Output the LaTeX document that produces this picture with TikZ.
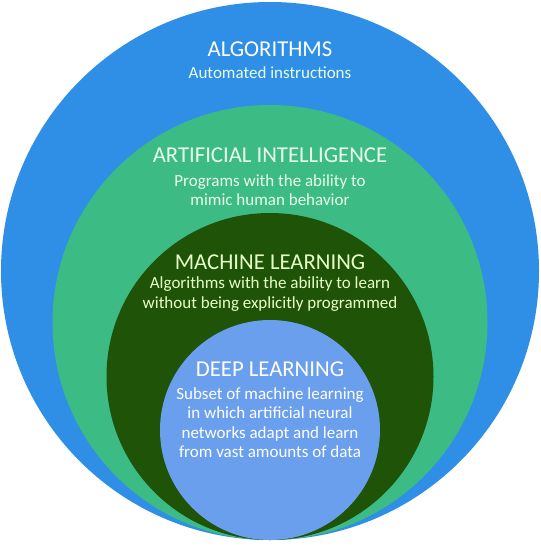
\documentclass[tikz,border=0pt]{standalone}
\usepackage{fontspec}
\setmainfont{Carlito}
\usetikzlibrary{positioning}

\definecolor{algoblue}{RGB}{47,143,230}
\definecolor{aigreen}{RGB}{61,187,132}
\definecolor{mldark}{RGB}{30,83,8}
\definecolor{dlblue}{RGB}{106,159,238}
\definecolor{aitext}{RGB}{232,255,236}
\definecolor{mltext}{RGB}{230,255,200}

\begin{document}
\begin{tikzpicture}[
        x=1pt, y=-1pt,
        % Cercles imbriqués
        ring/.style = {
            circle,
            draw=none,
            inner sep=0pt
        },
        % Titres des cercles
        heading/.style = {
            align=center,
            inner sep=0pt,
            font=\fontsize{22.7}{24}\selectfont
        },
        % Texte descriptif
        caption/.style = {
            align=center,
            inner sep=0pt,
            font=\fontsize{17}{19.5}\selectfont
        }
    ]
    \useasboundingbox (0,0) rectangle (540,556);

    % 1. Les cercles
    \node (algo) [ring, fill=algoblue, minimum size=538pt] at (270,271) {};
    \node (ai)   [ring, fill=aigreen,  minimum size=435pt] at (270,322.5) {};
    \node (ml)   [ring, fill=mldark,   minimum size=327pt] at (270,376.5) {};
    \node (dl)   [ring, fill=dlblue,   minimum size=220pt] at (270,430) {};

    % 2. Les textes
    \node (algoT) [heading, text=white] at (270,49) {ALGORITHMS};
    \node (algoC) [caption, text=aitext] at (270,73) {Automated instructions};

    \node (aiT) [heading, text=aitext] at (270,155) {ARTIFICIAL INTELLIGENCE};
    \node (aiC) [caption, text=aitext] at (270,190) {Programs with the ability to\\mimic human behavior};

    \node (mlT) [heading, text=mltext] at (270,262) {MACHINE LEARNING};
    \node (mlC) [caption, text=mltext] at (270,294) {Algorithms with the ability to learn\\without being explicitly programmed};

    \node (dlT) [heading, text=white] at (270,369) {DEEP LEARNING};
    \node (dlC) [caption, text=white] at (270,422.5) {Subset of machine learning\\in which artificial neural\\networks adapt and learn\\from vast amounts of data};

\end{tikzpicture}
\end{document}
